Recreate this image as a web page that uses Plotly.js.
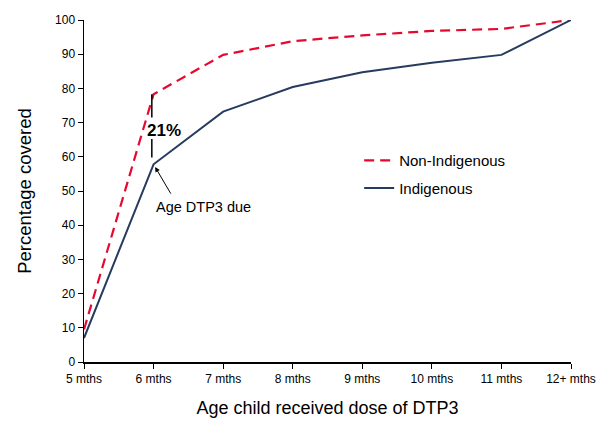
<!DOCTYPE html>
<html><head><meta charset="utf-8">
<script src="https://cdn.plot.ly/plotly-3.0.1.min.js"></script>
<style>html,body{margin:0;padding:0;background:#fff}#c{width:598px;height:421px}</style>
</head><body><div id="c"></div>
<script>
const categories = ["5 mths","6 mths","7 mths","8 mths","9 mths","10 mths","11 mths","12+ mths"];
const nonIndigenous = [9.5, 78.3, 89.8, 93.8, 95.5, 96.8, 97.4, 100];
const indigenous = [7, 57.8, 73.2, 80.4, 84.7, 87.5, 89.8, 100];
const gapLabel = "21%";
const dueLabel = "Age DTP3 due";
const xIdx = categories.map((c,i)=>i);
const F = "Liberation Sans, Arial, sans-serif";

const traces = [
 {x:xIdx, y:nonIndigenous, mode:"lines", name:"Non-Indigenous", legendgroup:"a", line:{color:"#E5092F", width:2.2, dash:"10px,6px"}},
 {x:xIdx, y:indigenous, mode:"lines", name:"Indigenous", legendgroup:"b", line:{color:"#263B5E", width:2}}
];
const layout = {
 width:598, height:421, margin:{l:84, r:27, t:20, b:59},
 paper_bgcolor:"#fff", plot_bgcolor:"#fff", showlegend:true,
 font:{family:F, color:"#000", size:12},
 xaxis:{range:[0,7], tickvals:xIdx, ticktext:categories, showgrid:false, zeroline:false,
   showline:true, linecolor:"#000", linewidth:1.5, ticks:"outside", ticklen:5, tickcolor:"#000",
   ticklabeloverflow:"allow", automargin:false,
   tickfont:{size:12}, title:{text:"Age child received dose of DTP3", font:{size:18}, standoff:16}},
 yaxis:{range:[0,100], dtick:10, showgrid:false, zeroline:false, showline:true, linecolor:"#000", linewidth:1.5,
   ticks:"outside", ticklen:5, tickcolor:"#000", tickfont:{size:12},
   title:{text:"Percentage covered", font:{size:18.5}, standoff:18}},
 legend:{x:0.565, y:0.637, xanchor:"left", yanchor:"top", font:{size:15}, bgcolor:"rgba(0,0,0,0)",
   traceorder:"grouped", tracegroupgap:5, itemwidth:30},
 shapes:[
  {type:"line", xref:"x", yref:"y", x0:0.975, x1:0.975, y0:nonIndigenous[1], y1:71.5, line:{color:"#000", width:1.5}},
  {type:"line", xref:"x", yref:"y", x0:0.975, x1:0.975, y0:65.2, y1:59.8, line:{color:"#000", width:1.5}}
 ],
 annotations:[
  {x:1.15, y:67.8, xref:"x", yref:"y", text:"<b>"+gapLabel+"</b>", showarrow:false, font:{size:17, color:"#000"}},
  {x:1, y:indigenous[1], xref:"x", yref:"y", ax:1.26, ay:48.8, axref:"x", ayref:"y", text:"", showarrow:true, arrowhead:2, arrowsize:1, arrowwidth:1, arrowcolor:"#000", standoff:3},
  {x:1.72, y:45.3, xref:"x", yref:"y", text:dueLabel, showarrow:false, font:{size:14.5, color:"#000"}}
 ]
};
Plotly.newPlot("c", traces, layout, {displayModeBar:false, staticPlot:true});
</script></body></html>
